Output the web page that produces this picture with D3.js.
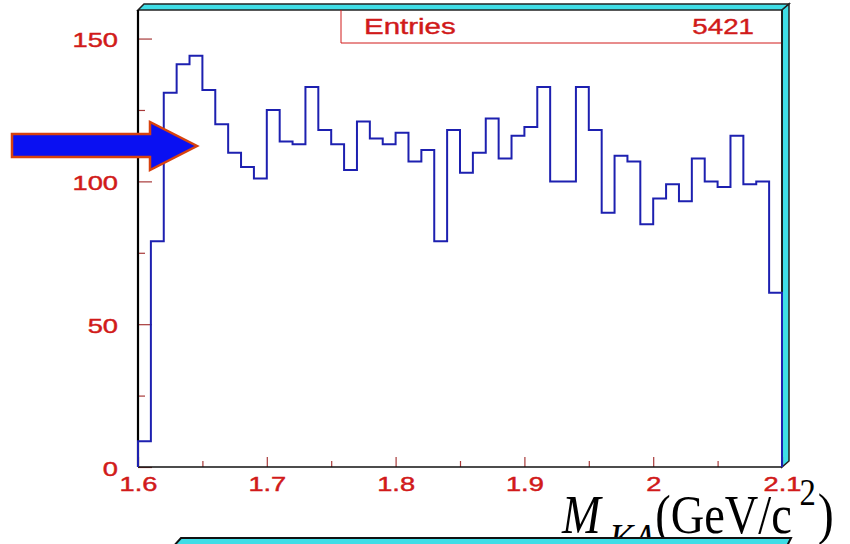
<!DOCTYPE html>
<html>
<head>
<meta charset="utf-8">
<script src="https://cdn.jsdelivr.net/npm/d3@7"></script>
<style>
  html, body { margin: 0; padding: 0; background: #ffffff; }
  svg { display: block; }
</style>
</head>
<body>
<svg id="chart" width="850" height="544"></svg>
<script>
// Histogram of the K-Lambda invariant mass, 50 bins from 1.6 to 2.1 GeV/c^2
const massRange = [1.6, 2.1];
const binCounts = [
  9, 79, 131, 141, 144, 132, 120, 110, 105, 101,
  125, 114, 113, 133, 118, 113, 104, 121, 115, 113,
  117, 107, 111, 79, 118, 103, 110, 122, 108, 116,
  119, 133, 100, 100, 133, 118, 89, 109, 107, 85,
  94, 99, 93, 108, 100, 98, 116, 99, 100, 61
];
const entries = 5421;
const yMajorTicks = [0, 50, 100, 150];
const yMinorTicks = [25, 75, 125];
const xMajorTicks = [1.6, 1.7, 1.8, 1.9, 2.0, 2.1];
const xMinorTicks = [1.65, 1.75, 1.85, 1.95, 2.05];
const xTickLabels = ["1.6", "1.7", "1.8", "1.9", "2", "2.1"];

const svg = d3.select("#chart");
const frame = { left: 138, right: 782, top: 10, bottom: 467 };

const x = d3.scaleLinear().domain(massRange).range([frame.left, frame.right]);
const y = d3.scaleLinear().domain([0, 160]).range([frame.bottom, frame.top]);

const cyan = "#3fdde6";
const red = "#d11a1a";
const tickRed = "#a83a3a";
const sans = "Liberation Sans, Arial, sans-serif";

// raised frame: cyan bevel on the top and right sides
svg.append("polygon")
  .attr("points", [[frame.left, frame.top], [frame.left + 6, frame.top - 6],
                   [frame.right + 7, frame.top - 6], [frame.right, frame.top]].join(" "))
  .attr("fill", cyan).attr("stroke", "#222").attr("stroke-width", 1.5);
svg.append("polygon")
  .attr("points", [[frame.right, frame.top], [frame.right + 7, frame.top - 6],
                   [frame.right + 7, frame.bottom - 6], [frame.right, frame.bottom]].join(" "))
  .attr("fill", cyan).attr("stroke", "#222").attr("stroke-width", 1.5);

// statistics box
const statLeft = 341, statBottom = 43;
svg.append("path")
  .attr("d", `M${statLeft},${frame.top}V${statBottom}H${frame.right}`)
  .attr("fill", "none").attr("stroke", red).attr("stroke-width", 1);

function stretchText(sel, factor) {
  sel.each(function () {
    const w = this.getComputedTextLength();
    d3.select(this).attr("textLength", w * factor).attr("lengthAdjust", "spacingAndGlyphs");
  });
}

svg.append("text")
  .attr("x", 364).attr("y", 34)
  .attr("font-family", sans).attr("font-size", 22)
  .attr("fill", red).attr("stroke", red).attr("stroke-width", 0.4)
  .text("Entries").call(stretchText, 1.34);
svg.append("text")
  .attr("x", 754).attr("y", 34).attr("text-anchor", "end")
  .attr("font-family", sans).attr("font-size", 22)
  .attr("fill", red).attr("stroke", red).attr("stroke-width", 0.4)
  .text(String(entries)).call(stretchText, 1.26);

// y axis
const yAxis = svg.append("g").attr("transform", `translate(${frame.left},0)`)
  .call(d3.axisLeft(y).tickValues(yMajorTicks).tickSize(-14).tickPadding(20).tickFormat(d3.format("d")));
yAxis.select(".domain").remove();
yAxis.selectAll(".tick line").attr("stroke", tickRed).attr("stroke-width", 1.2);
yAxis.selectAll(".tick text")
  .attr("font-family", sans).attr("font-size", 21)
  .attr("fill", red).attr("stroke", red).attr("stroke-width", 0.45).attr("dy", "0.4em")
  .call(stretchText, 1.3);
const yMinor = svg.append("g").attr("transform", `translate(${frame.left},0)`)
  .call(d3.axisLeft(y).tickValues(yMinorTicks).tickSize(-7).tickFormat(""));
yMinor.select(".domain").remove();
yMinor.selectAll(".tick line").attr("stroke", tickRed).attr("stroke-width", 1.2);

// x axis
const xAxis = svg.append("g").attr("transform", `translate(0,${frame.bottom})`)
  .call(d3.axisBottom(x).tickValues(xMajorTicks).tickSize(-10).tickPadding(10)
        .tickFormat((d, i) => xTickLabels[i]));
xAxis.select(".domain").remove();
xAxis.selectAll(".tick line").attr("stroke", tickRed).attr("stroke-width", 1.2);
xAxis.selectAll(".tick text")
  .attr("font-family", sans).attr("font-size", 20)
  .attr("fill", red).attr("stroke", red).attr("stroke-width", 0.45).attr("dy", "0.71em")
  .call(stretchText, 1.36);
const xMinor = svg.append("g").attr("transform", `translate(0,${frame.bottom})`)
  .call(d3.axisBottom(x).tickValues(xMinorTicks).tickSize(-6).tickFormat(""));
xMinor.select(".domain").remove();
xMinor.selectAll(".tick line").attr("stroke", tickRed).attr("stroke-width", 1.2);

// frame lines
svg.append("line").attr("x1", frame.left).attr("x2", frame.left)
  .attr("y1", frame.top).attr("y2", frame.bottom)
  .attr("stroke", "#000").attr("stroke-width", 2.2);
svg.append("line").attr("x1", frame.left).attr("x2", frame.right)
  .attr("y1", frame.bottom).attr("y2", frame.bottom)
  .attr("stroke", "#111").attr("stroke-width", 1.6);
svg.append("line").attr("x1", frame.right).attr("x2", frame.right)
  .attr("y1", frame.top).attr("y2", frame.bottom)
  .attr("stroke", "#111").attr("stroke-width", 1.6);

// histogram outline
const binWidth = (massRange[1] - massRange[0]) / binCounts.length;
const pts = [[massRange[0], 0]];
binCounts.forEach((c, i) => pts.push([massRange[0] + i * binWidth, c]));
pts.push([massRange[1], binCounts[binCounts.length - 1]]);
pts.push([massRange[1], 0]);
const line = d3.line().x(d => x(d[0])).y(d => y(d[1])).curve(d3.curveStepAfter);
svg.append("path")
  .attr("d", line(pts))
  .attr("fill", "none").attr("stroke", "#1d20b0").attr("stroke-width", 2);

// axis title
const title = svg.append("g").attr("transform", "translate(562,533) scale(0.86,1)")
  .append("text")
  .attr("font-family", "Liberation Serif, Times New Roman, serif")
  .attr("fill", "#000");
title.append("tspan").attr("font-size", 54).attr("font-style", "italic").text("M");
title.append("tspan").attr("font-size", 42).attr("font-style", "italic")
  .attr("dx", 10).attr("dy", 20).text("KΛ");
title.append("tspan").attr("font-size", 54).attr("dy", -20).text("(GeV/c");
title.append("tspan").attr("font-size", 38).attr("dx", 9).attr("dy", -28).text("2");
title.append("tspan").attr("font-size", 56).attr("dx", 2).attr("dy", 28).text(")");

// panel edge below the plot
svg.append("polygon")
  .attr("points", "172,548 181,538 791,538 786,548")
  .attr("fill", cyan).attr("stroke", "#111").attr("stroke-width", 2);

// pointer arrow
svg.append("polygon")
  .attr("points", "12,134 150,134 150,122 197,146 150,170 150,157 12,157")
  .attr("fill", "#0a10f2").attr("stroke", "#d8420e").attr("stroke-width", 2.5)
  .attr("stroke-linejoin", "miter");
</script>
</body>
</html>
